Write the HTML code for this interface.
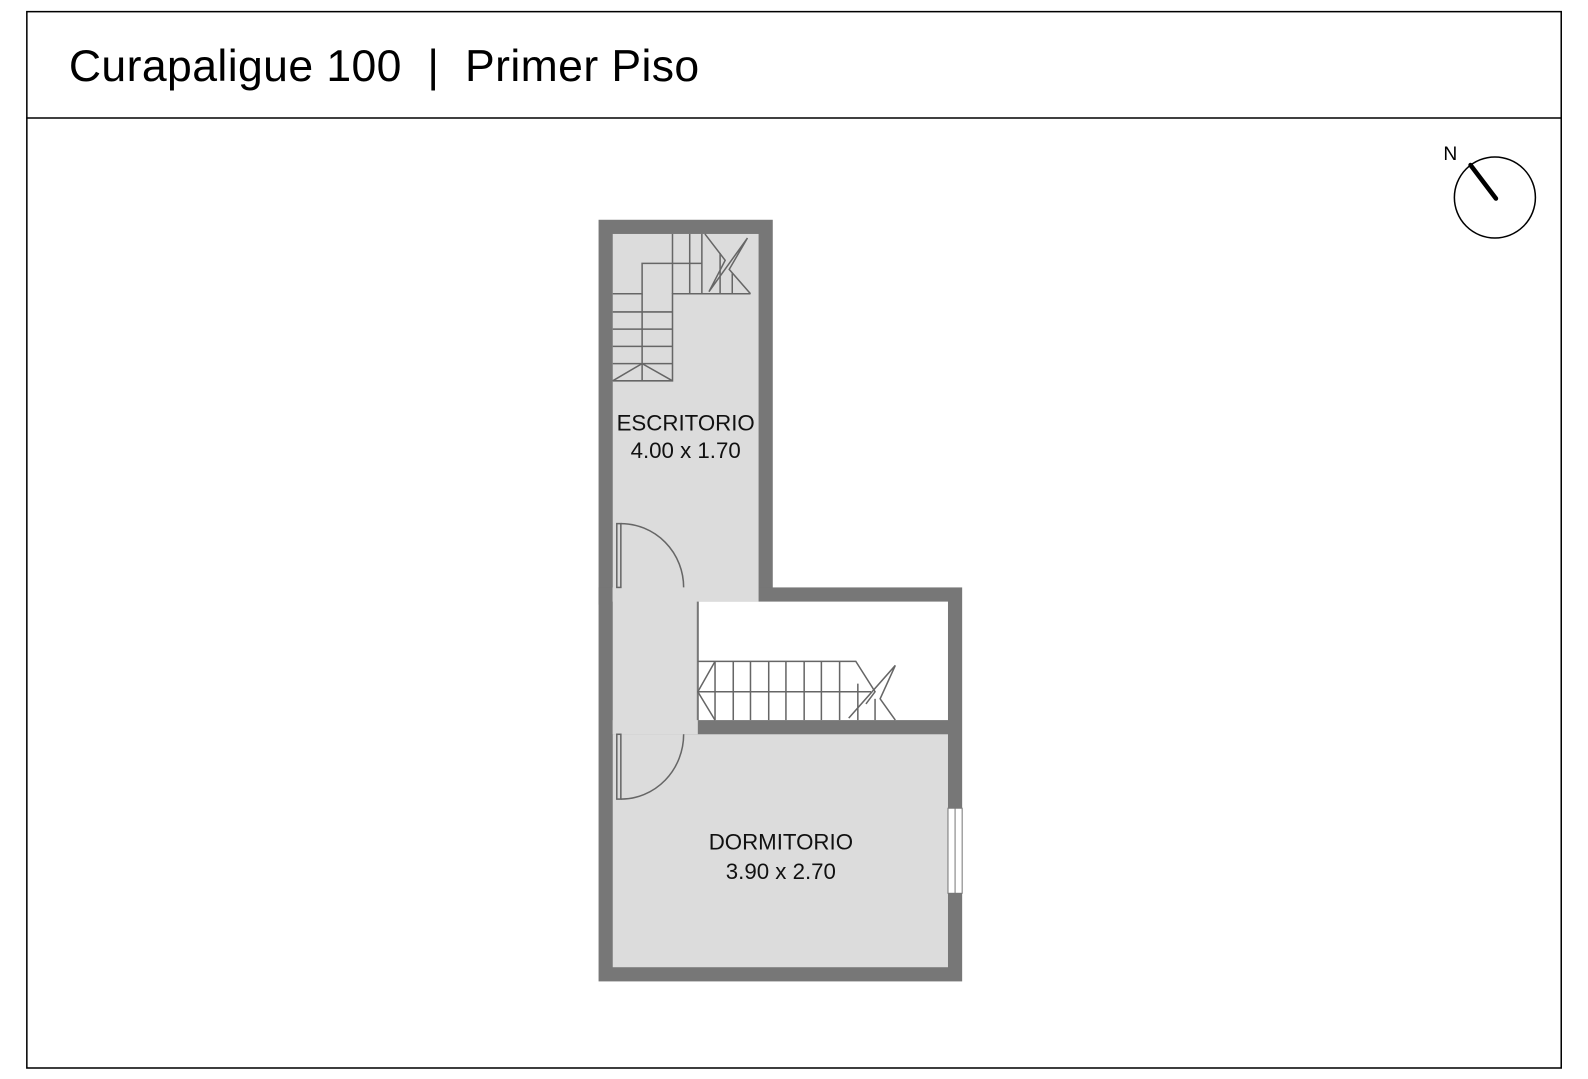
<!DOCTYPE html>
<html><head><meta charset="utf-8"><style>
html,body{margin:0;padding:0;background:#fff;}
svg{display:block;}
</style></head><body>
<svg width="1588" height="1079" viewBox="0 0 1588 1079" xmlns="http://www.w3.org/2000/svg">
<g transform="scale(1.0128)">
<rect x="26.5" y="11.5" width="1515" height="1043" fill="#fff" stroke="#000" stroke-width="1.5"/>
<line x1="26" y1="116.5" x2="1541" y2="116.5" stroke="#000" stroke-width="1.5"/>
<text x="68" y="80" font-family="Liberation Sans, sans-serif" font-size="44" letter-spacing="0.4" fill="#000" xml:space="preserve" style="white-space:pre">Curapaligue 100  |  Primer Piso</text>

<rect x="591" y="217" width="172" height="380" fill="#777"/>
<rect x="591" y="580" width="359" height="389" fill="#777"/>
<rect x="605" y="231" width="144" height="363" fill="#dcdcdc"/>
<rect x="605" y="580" width="84" height="145" fill="#dcdcdc"/>
<rect x="605" y="725" width="331" height="230" fill="#dcdcdc"/>
<rect x="689" y="594" width="247" height="117" fill="#fff"/>
<rect x="605" y="580" width="70" height="14" fill="#dcdcdc"/>
<rect x="605" y="711" width="70" height="14" fill="#dcdcdc"/>
<rect x="675" y="594" width="14" height="117" fill="#dcdcdc"/>
<line x1="689" y1="594" x2="689" y2="711" stroke="#777" stroke-width="2"/>

<g fill="none" stroke="#666" stroke-width="1.5">
<polyline points="605,290 634,290 634,260 693,260"/>
<line x1="605" y1="308" x2="664" y2="308"/><line x1="605" y1="325" x2="664" y2="325"/>
<line x1="605" y1="342" x2="664" y2="342"/><line x1="605" y1="359" x2="664" y2="359"/>
<polyline points="605,376 664,376 664,290 741,290"/>
<line x1="634" y1="290" x2="634" y2="376"/>
<polyline points="605,376 634,359 664,376"/>
<line x1="664" y1="231" x2="664" y2="290"/><line x1="681" y1="231" x2="681" y2="290"/>
<line x1="693" y1="231" x2="693" y2="290"/><line x1="711" y1="250" x2="711" y2="290"/>
<line x1="723" y1="270" x2="723" y2="290"/>
<polyline points="696,231 716,257 700,288 738,235 720,266 741,290"/>
<polyline points="689,653 845,653 864,683 855,695"/>
<line x1="689" y1="683" x2="860" y2="683"/>
<line x1="706" y1="653" x2="706" y2="711"/><line x1="724" y1="653" x2="724" y2="711"/>
<line x1="741" y1="653" x2="741" y2="711"/><line x1="759" y1="653" x2="759" y2="711"/>
<line x1="776" y1="653" x2="776" y2="711"/><line x1="794" y1="653" x2="794" y2="711"/>
<line x1="811" y1="653" x2="811" y2="711"/><line x1="829" y1="653" x2="829" y2="711"/>
<line x1="847" y1="675" x2="847" y2="711"/><line x1="864" y1="690" x2="864" y2="711"/>
<polyline points="706,653 689,683 706,711"/>
<polyline points="838,709 884,657 869,690 884,711"/>
<rect x="609" y="517" width="4" height="63"/>
<path d="M613,517 A62,63 0 0 1 675,580"/>
<rect x="609" y="725" width="4" height="64"/>
<path d="M613,789 A62,64 0 0 0 675,725"/>
</g>
<rect x="936" y="798" width="14" height="84" fill="#fff" stroke="#777" stroke-width="1"/>
<line x1="943" y1="798" x2="943" y2="882" stroke="#777" stroke-width="1"/>

<g font-family="Liberation Sans, sans-serif" font-size="22" fill="#111" text-anchor="middle">
<text x="677" y="425">ESCRITORIO</text>
<text x="677" y="452">4.00 x 1.70</text>
<text x="771" y="839">DORMITORIO</text>
<text x="771" y="868">3.90 x 2.70</text>
</g>

<circle cx="1476" cy="195" r="40" fill="none" stroke="#000" stroke-width="1.5"/>
<line x1="1452" y1="163" x2="1477" y2="196" stroke="#000" stroke-width="4.5" stroke-linecap="round"/>
<text x="1432" y="158" font-family="Liberation Sans, sans-serif" font-size="19" fill="#000" text-anchor="middle">N</text>
</g>
</svg>
</body></html>
